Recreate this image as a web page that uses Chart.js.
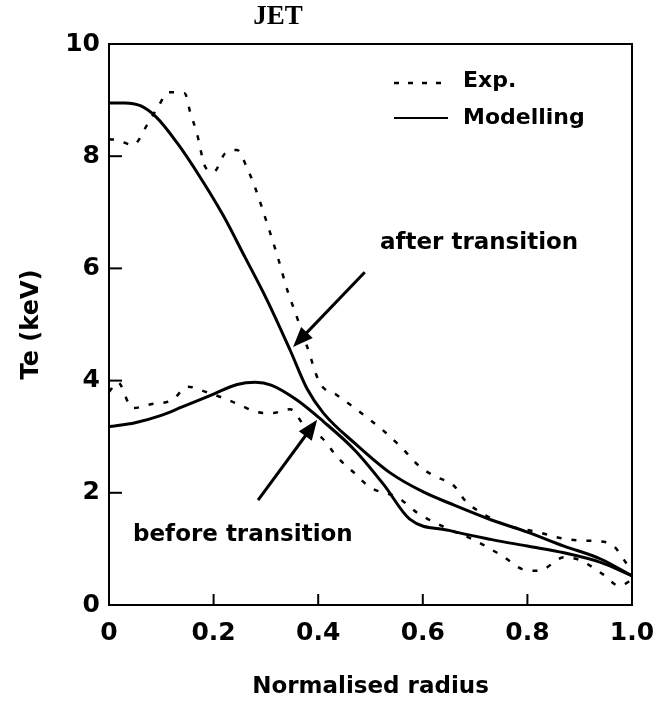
<!DOCTYPE html>
<html>
<head>
<meta charset="utf-8">
<script src="https://cdn.jsdelivr.net/npm/chart.js@4.4.1/dist/chart.umd.min.js"></script>
<style>
  html, body { margin: 0; padding: 0; background: #fff; overflow: hidden; }
  #wrap { width: 663px; height: 702px; position: relative; }
</style>
</head>
<body>
<div id="wrap"><canvas id="c"></canvas></div>
<script>
// ---- Data ----
const xTickLabels = ["0", "0.2", "0.4", "0.6", "0.8", "1.0"];
const yTickLabels = ["0", "2", "4", "6", "8", "10"];

// Modelling, after transition (solid)
const modelAfterX = [0, 0.03, 0.06, 0.09, 0.13, 0.174, 0.218, 0.26, 0.302, 0.346, 0.379, 0.41, 0.474, 0.537, 0.60, 0.66, 0.73, 0.80, 0.87, 0.94, 1.0];
const modelAfterY = [8.95, 8.95, 8.9, 8.7, 8.24, 7.63, 6.95, 6.2, 5.44, 4.55, 3.85, 3.42, 2.85, 2.36, 2.02, 1.78, 1.52, 1.30, 1.05, 0.82, 0.52];

// Modelling, before transition (solid)
const modelBeforeX = [0, 0.05, 0.10, 0.14, 0.20, 0.245, 0.28, 0.31, 0.36, 0.41, 0.47, 0.525, 0.575, 0.65, 0.73, 0.80, 0.87, 0.94, 1.0];
const modelBeforeY = [3.18, 3.25, 3.38, 3.53, 3.76, 3.93, 3.97, 3.92, 3.65, 3.27, 2.76, 2.15, 1.53, 1.33, 1.17, 1.05, 0.93, 0.76, 0.52];

// Experiment, after transition (dashed)
const expAfterX = [0, 0.015, 0.046, 0.073, 0.095, 0.113, 0.145, 0.155, 0.168, 0.184, 0.2, 0.222, 0.245, 0.264, 0.279, 0.302, 0.323, 0.342, 0.356, 0.379, 0.403, 0.436, 0.467, 0.499, 0.528, 0.56, 0.595, 0.627, 0.658, 0.682, 0.72, 0.76, 0.82, 0.86, 0.9, 0.93, 0.965, 0.985, 1.0];
const expAfterY = [8.3, 8.29, 8.2, 8.56, 8.9, 9.14, 9.12, 8.79, 8.41, 7.81, 7.72, 8.05, 8.11, 7.79, 7.45, 6.81, 6.19, 5.58, 5.22, 4.6, 3.96, 3.74, 3.53, 3.3, 3.08, 2.8, 2.46, 2.28, 2.14, 1.85, 1.6, 1.42, 1.3, 1.2, 1.15, 1.14, 1.05, 0.8, 0.6];

// Experiment, before transition (dashed)
const expBeforeX = [0, 0.017, 0.04, 0.046, 0.08, 0.12, 0.151, 0.185, 0.218, 0.247, 0.283, 0.312, 0.346, 0.379, 0.407, 0.436, 0.467, 0.499, 0.553, 0.59, 0.65, 0.70, 0.756, 0.79, 0.822, 0.87, 0.9, 0.944, 0.976, 1.0];
const expBeforeY = [3.8, 3.97, 3.55, 3.51, 3.58, 3.65, 3.89, 3.8, 3.69, 3.58, 3.44, 3.42, 3.49, 3.12, 2.98, 2.64, 2.37, 2.1, 1.91, 1.64, 1.35, 1.15, 0.85, 0.64, 0.61, 0.85, 0.8, 0.55, 0.34, 0.45];

// Text annotations and arrows (data coordinates)
const annotationTexts = ["after transition", "before transition"];
const annotationAt = [[0.518, 6.45], [0.046, 1.25]];
const arrowFrom = [[0.489, 5.93], [0.285, 1.87]];
const arrowTo = [[0.352, 4.6], [0.398, 3.30]];

const titleText = "JET";
const legendLabels = ["Exp.", "Modelling"];

function pts(xs, ys) { return xs.map((x, i) => ({ x: x, y: ys[i] })); }

const solidStyle = { borderColor: "#000", borderWidth: 3, pointRadius: 0, fill: false, cubicInterpolationMode: "monotone" };
const dashStyle = { borderColor: "#000", borderWidth: 2.5, pointRadius: 0, fill: false, borderDash: [5, 10], cubicInterpolationMode: "monotone" };

const PLOT = { left: 109, top: 44, right: 632, bottom: 605 };

const framePlugin = {
  id: "frame",
  afterDatasetsDraw(chart) {
    const { ctx, chartArea: a, scales } = chart;
    ctx.save();
    ctx.strokeStyle = "#000";
    ctx.lineWidth = 2;
    ctx.strokeRect(a.left, a.top, a.right - a.left, a.bottom - a.top);
    // inward ticks
    [0.2, 0.4, 0.6, 0.8].forEach(v => {
      const px = scales.x.getPixelForValue(v);
      ctx.beginPath(); ctx.moveTo(px, a.bottom); ctx.lineTo(px, a.bottom - 11); ctx.stroke();
    });
    [2, 4, 6, 8].forEach(v => {
      const py = scales.y.getPixelForValue(v);
      ctx.beginPath(); ctx.moveTo(a.left, py); ctx.lineTo(a.left + 13, py); ctx.stroke();
    });
    // annotations
    ctx.fillStyle = "#000";
    ctx.font = "bold 23px 'DejaVu Sans'";
    ctx.textBaseline = "middle";
    ctx.textAlign = "left";
    annotationTexts.forEach((t, i) => {
      const x = scales.x.getPixelForValue(annotationAt[i][0]);
      const y = scales.y.getPixelForValue(annotationAt[i][1]);
      ctx.fillText(t, x, y);
    });
    // arrows
    arrowFrom.forEach((f, i) => {
      const x1 = scales.x.getPixelForValue(f[0]), y1 = scales.y.getPixelForValue(f[1]);
      const x2 = scales.x.getPixelForValue(arrowTo[i][0]), y2 = scales.y.getPixelForValue(arrowTo[i][1]);
      const ang = Math.atan2(y2 - y1, x2 - x1);
      const L = 20, W = 8;
      ctx.lineWidth = 3;
      ctx.beginPath(); ctx.moveTo(x1, y1);
      ctx.lineTo(x2 - Math.cos(ang) * L * 0.8, y2 - Math.sin(ang) * L * 0.8); ctx.stroke();
      ctx.beginPath();
      ctx.moveTo(x2, y2);
      ctx.lineTo(x2 - Math.cos(ang) * L + Math.sin(ang) * W, y2 - Math.sin(ang) * L - Math.cos(ang) * W);
      ctx.lineTo(x2 - Math.cos(ang) * L - Math.sin(ang) * W, y2 - Math.sin(ang) * L + Math.cos(ang) * W);
      ctx.closePath(); ctx.fill();
    });
    // legend
    ctx.font = "bold 22px 'DejaVu Sans'";
    const lx0 = 394, lx1 = 448, tx = 463;
    const ly = [81, 118];
    ctx.lineWidth = 2.5;
    ctx.setLineDash([5, 9]);
    ctx.beginPath(); ctx.moveTo(lx0, ly[0] + 2); ctx.lineTo(lx1, ly[0] + 2); ctx.stroke();
    ctx.setLineDash([]);
    ctx.lineWidth = 2;
    ctx.beginPath(); ctx.moveTo(lx0, ly[1]); ctx.lineTo(lx1, ly[1]); ctx.stroke();
    ctx.fillText(legendLabels[0], tx, ly[0]);
    ctx.fillText(legendLabels[1], tx, ly[1]);
    // title
    ctx.font = "bold 27px 'Liberation Serif'";
    ctx.textAlign = "center";
    ctx.fillText(titleText, 278, 17);
    ctx.restore();
  }
};

new Chart(document.getElementById("c"), {
  type: "line",
  data: {
    datasets: [
      Object.assign({ label: "Exp. after", data: pts(expAfterX, expAfterY) }, dashStyle),
      Object.assign({ label: "Exp. before", data: pts(expBeforeX, expBeforeY) }, dashStyle),
      Object.assign({ label: "Modelling after", data: pts(modelAfterX, modelAfterY) }, solidStyle),
      Object.assign({ label: "Modelling before", data: pts(modelBeforeX, modelBeforeY) }, solidStyle)
    ]
  },
  options: {
    responsive: true,
    maintainAspectRatio: false,
    animation: false,
    layout: { padding: { top: PLOT.top, right: 663 - PLOT.right, left: 0, bottom: 0 } },
    plugins: { legend: { display: false }, tooltip: { enabled: false }, title: { display: false } },
    scales: {
      x: {
        type: "linear", min: 0, max: 1,
        grid: { display: false, drawTicks: false },
        border: { display: false },
        ticks: {
          stepSize: 0.2, padding: 13, color: "#000", maxRotation: 0,
          font: { family: "'DejaVu Sans'", size: 25, weight: "bold" },
          callback: (v, i) => xTickLabels[i]
        },
        title: { display: true, text: "Normalised radius", color: "#000", font: { family: "'DejaVu Sans'", size: 23, weight: "bold" }, padding: { top: 0, bottom: 1 } },
        afterFit: s => { s.height = 702 - PLOT.bottom; s.paddingLeft = 0; s.paddingRight = 0; }
      },
      y: {
        type: "linear", min: 0, max: 10,
        grid: { display: false, drawTicks: false },
        border: { display: false },
        ticks: {
          stepSize: 2, padding: 9, color: "#000",
          font: { family: "'DejaVu Sans'", size: 25, weight: "bold" },
          callback: (v, i) => yTickLabels[i]
        },
        title: { display: true, text: "Te (keV)", color: "#000", font: { family: "'DejaVu Sans'", size: 24, weight: "bold" }, padding: { top: 17, bottom: 0 } },
        afterFit: s => { s.width = PLOT.left; s.paddingTop = 0; s.paddingBottom = 0; }
      }
    }
  },
  plugins: [framePlugin]
});
</script>
</body>
</html>
